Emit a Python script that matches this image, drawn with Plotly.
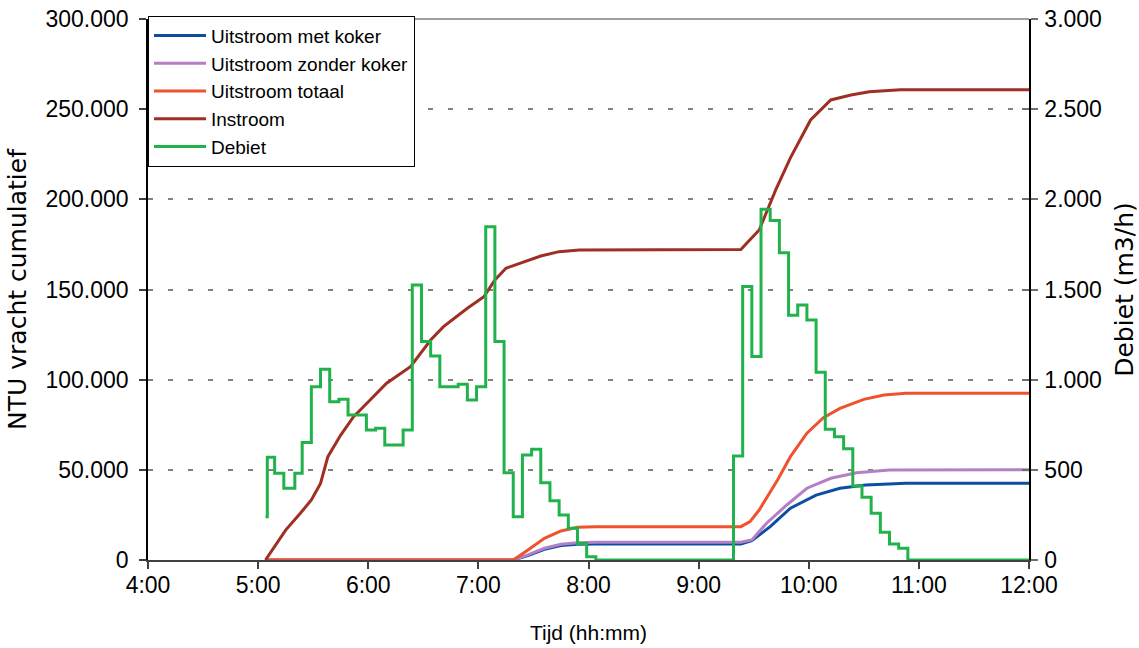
from datetime import datetime

import plotly.graph_objects as go

# ---- data -------------------------------------------------------------
# cumulative NTU load (left axis), times as H:MM
instroom_t = ["5:04", "5:15", "5:23", "5:29", "5:34", "5:38", "5:45", "5:52", "6:01",
              "6:10", "6:23", "6:34", "6:41", "6:54", "7:03", "7:09", "7:15", "7:23",
              "7:34", "7:44", "7:55", "9:23", "9:33", "9:42", "9:50", "10:01", "10:12",
              "10:23", "10:33", "10:50", "12:00"]
instroom_v = [0, 16600, 25900, 33300, 42500, 57300, 69300, 79500, 88700,
              98000, 107200, 122000, 129400, 139600, 146000, 155300, 161800, 164600,
              168600, 171000, 171900, 172200, 183000, 205200, 223000, 244000, 255100,
              257900, 259600, 260700, 260700]

totaal_t = ["5:04", "7:19", "7:27", "7:36", "7:45", "7:54", "8:04", "9:23", "9:28",
            "9:33", "9:43", "9:50", "9:59", "10:08", "10:17", "10:30", "10:41", "10:53", "12:00"]
totaal_v = [0, 0, 5500, 12000, 16100, 18100, 18500, 18500, 21300,
            27700, 44400, 57300, 70300, 78900, 84100, 89100, 91500, 92400, 92400]

zonder_t = ["5:04", "7:19", "7:27", "7:36", "7:45", "7:54", "8:04", "9:23", "9:29",
            "9:37", "9:48", "9:59", "10:12", "10:26", "10:44", "12:00"]
zonder_v = [0, 0, 2800, 6500, 8700, 9600, 9800, 9800, 11100,
            20400, 30500, 39800, 45300, 48400, 49900, 50000]

met_t = ["5:04", "7:19", "7:27", "7:36", "7:45", "7:54", "8:04", "9:23", "9:29",
         "9:39", "9:50", "10:04", "10:17", "10:31", "10:53", "12:00"]
met_v = [0, 0, 2500, 5900, 8000, 8700, 8900, 8900, 10700,
         18500, 28700, 36000, 39800, 41600, 42500, 42500]

# flow rate (right axis), stepwise
debiet_t = ["5:04", "5:05", "5:09", "5:14", "5:20", "5:24", "5:29", "5:34", "5:39",
            "5:44", "5:49", "5:59", "6:04", "6:09", "6:19", "6:24", "6:29", "6:34",
            "6:39", "6:49", "6:54", "6:59", "7:04", "7:09", "7:14", "7:19", "7:24",
            "7:29", "7:34", "7:39", "7:44", "7:49", "7:54", "7:59", "8:04", "9:19",
            "9:24", "9:29", "9:34", "9:39", "9:44", "9:49", "9:54", "9:59", "10:04",
            "10:09", "10:14", "10:19", "10:24", "10:29", "10:34", "10:39", "10:44",
            "10:49", "10:54", "12:00"]
debiet_v = [240, 570, 481, 398, 481, 651, 961, 1058, 878,
            891, 804, 721, 730, 638, 721, 1525, 1211, 1131,
            961, 974, 887, 961, 1848, 1211, 484, 240, 582,
            614, 429, 329, 250, 176, 92, 18, 0, 577,
            1516, 1128, 1945, 1882, 1704, 1357, 1414, 1331, 1041,
            725, 684, 617, 410, 348, 259, 154, 89,
            65, 0, 0]

x_ticks = ["4:00", "5:00", "6:00", "7:00", "8:00", "9:00", "10:00", "11:00", "12:00"]


def to_dt(labels):
    out = []
    for s in labels:
        h, m = s.split(":")
        out.append(datetime(2000, 1, 1, int(h), int(m)))
    return out


FONT = "Liberation Sans, Arial, sans-serif"
TITLE_FONT = "DejaVu Sans, sans-serif"
TICK_SIZE = 23

fig = go.Figure()

series = [
    ("Uitstroom met koker", met_t, met_v, "#0d4ea3"),
    ("Uitstroom zonder koker", zonder_t, zonder_v, "#b380c6"),
    ("Uitstroom totaal", totaal_t, totaal_v, "#f0522d"),
    ("Instroom", instroom_t, instroom_v, "#9e2f22"),
]
for name, t, v, col in series:
    fig.add_trace(go.Scatter(x=to_dt(t), y=v, name=name, mode="lines",
                             line=dict(color=col, width=3), yaxis="y"))

fig.add_trace(go.Scatter(x=to_dt(debiet_t), y=debiet_v, name="Debiet", mode="lines",
                         line=dict(color="#22b24c", width=3, shape="hv"), yaxis="y2"))

# helper axis giving the right-hand ticks their inner half
fig.add_trace(go.Scatter(x=[], y=[], yaxis="y3", showlegend=False, hoverinfo="skip"))

x_range = to_dt(["4:00", "12:00"])

fig.update_layout(
    width=1139, height=648,
    margin=dict(l=148, r=110, t=19, b=88),
    paper_bgcolor="white", plot_bgcolor="white",
    separators=",.",
    font=dict(family=FONT, size=20, color="black"),
    showlegend=True,
    legend=dict(x=0, y=1.006, xanchor="left", yanchor="top",
                bgcolor="white", bordercolor="black", borderwidth=1,
                font=dict(family=FONT, size=19, color="black"),
                tracegroupgap=0, itemwidth=52),
    xaxis=dict(type="date", range=x_range, automargin=False,
               tickvals=to_dt(x_ticks), ticktext=x_ticks,
               showgrid=False, zeroline=False,
               showline=True, linecolor="#404040", linewidth=1.5,
               ticks="outside", ticklen=7, tickcolor="#404040", tickwidth=1.5,
               tickfont=dict(size=TICK_SIZE), ticklabelstandoff=-3,
               title=dict(text="Tijd (hh:mm)", font=dict(size=21), standoff=28)),
    yaxis=dict(range=[0, 300000], dtick=50000, tickformat=",d", automargin=False,
               showgrid=True, gridcolor="#808080", gridwidth=1.5, griddash="5px,15px",
               zeroline=False, showline=True, linecolor="black", linewidth=1.5,
               ticks="outside", ticklen=7, tickcolor="#404040", tickwidth=1.5,
               tickfont=dict(size=TICK_SIZE), ticklabelstandoff=6,
               title=dict(text="NTU vracht cumulatief",
                          font=dict(family=TITLE_FONT, size=25), standoff=12)),
    yaxis2=dict(range=[0, 3000], dtick=500, tickformat=",d", automargin=False,
                overlaying="y", side="right", anchor="x",
                showgrid=False, zeroline=False,
                showline=True, linecolor="black", linewidth=1.5,
                ticks="outside", ticklen=7, tickcolor="#707070", tickwidth=1.5,
                tickfont=dict(size=TICK_SIZE), ticklabelstandoff=2,
                title=dict(text="Debiet (m3/h)",
                           font=dict(family=TITLE_FONT, size=25), standoff=16)),
    yaxis3=dict(range=[0, 3000], dtick=500, overlaying="y", side="right", anchor="x",
                automargin=False,
                showgrid=False, zeroline=False, showline=False, showticklabels=False,
                ticks="inside", ticklen=7, tickcolor="#707070", tickwidth=1.5),
    shapes=[dict(type="line", xref="paper", yref="paper", x0=0, x1=1, y0=1, y1=1,
                 line=dict(color="#808080", width=1.5), layer="below")],
)

fig.write_html("out.html")
